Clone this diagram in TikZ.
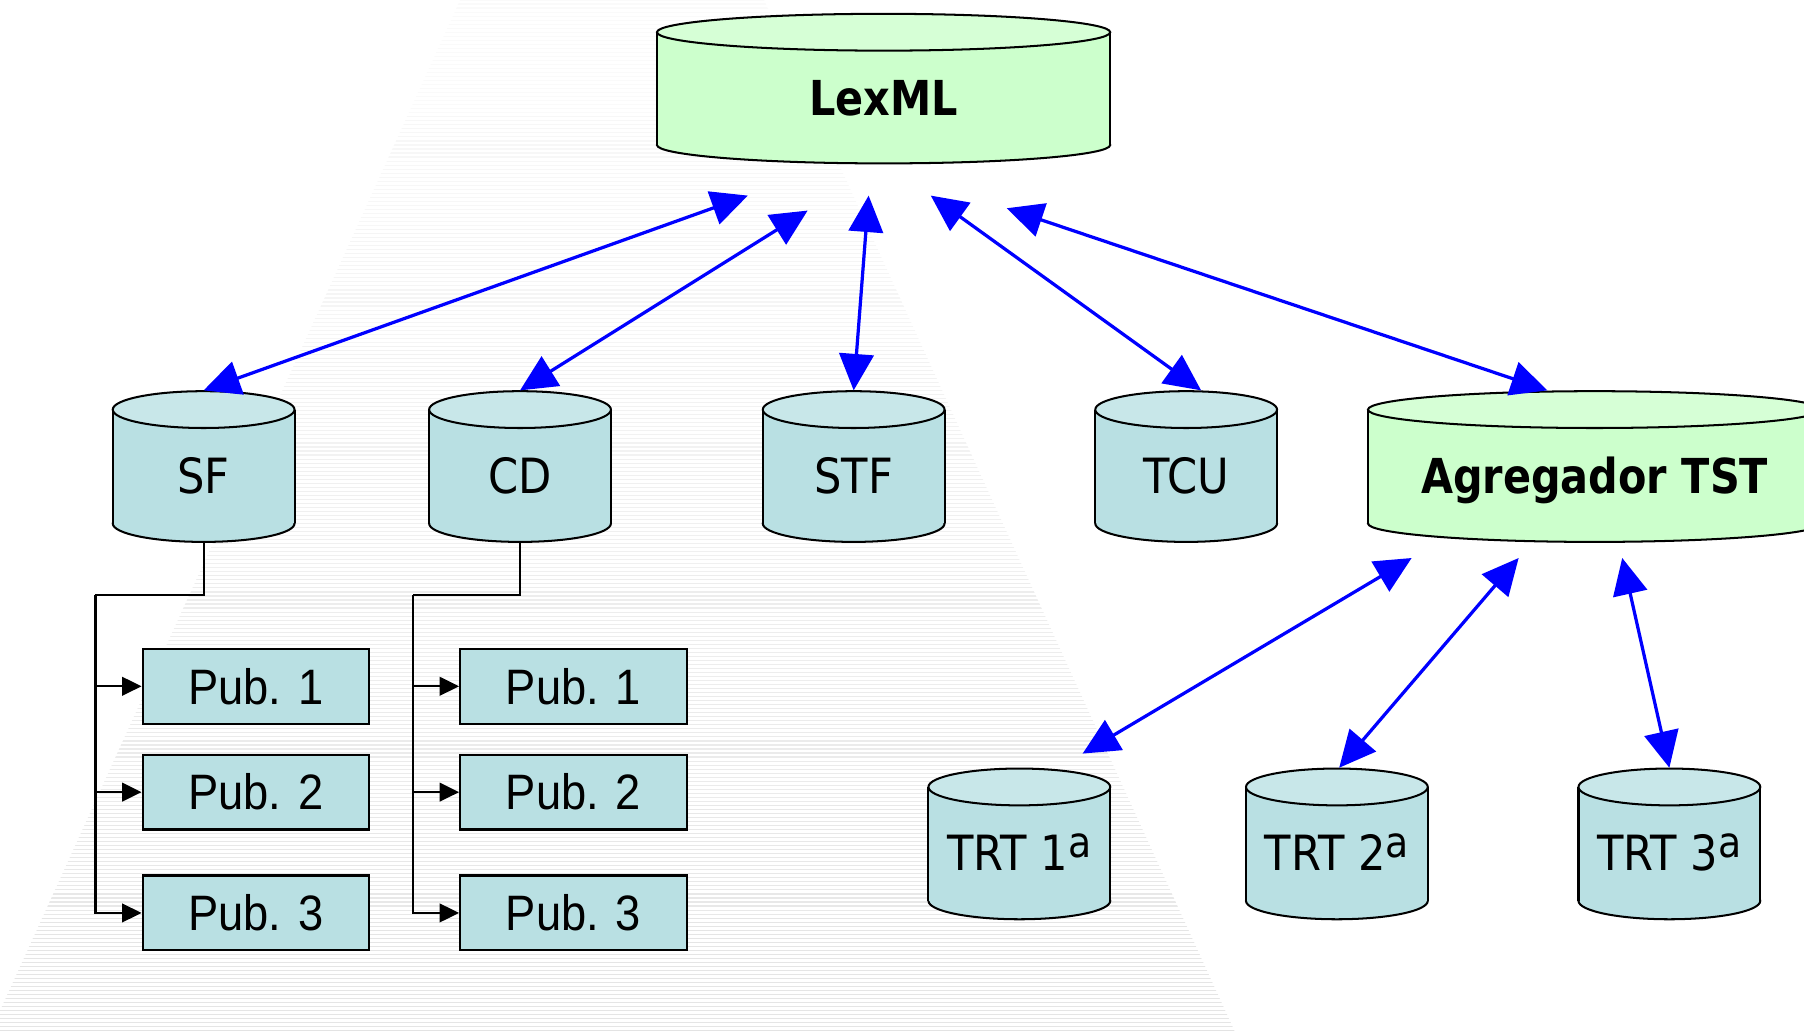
\documentclass[tikz,border=0pt]{standalone}
\usepackage{fontspec}
\setmainfont{DejaVu Sans}
\newfontfamily\cylfont{DejaVu Sans}[FakeStretch=0.89]
\newfontfamily\cylboldfont{DejaVu Sans}[FakeStretch=0.86]
\newfontfamily\pubfont{Liberation Sans}[FakeStretch=0.91]
\usetikzlibrary{arrows.meta,calc}
\definecolor{cylbody}{RGB}{185,224,227}
\definecolor{cyltop}{RGB}{200,231,233}
\definecolor{grnbody}{RGB}{204,255,204}
\definecolor{grntop}{RGB}{214,255,214}
\definecolor{arrowblue}{RGB}{0,0,255}
\newcommand\ordA{\raisebox{3.3pt}{\fontsize{10.5}{10}\selectfont a}}
\newcommand\dbcyl[9]{%
  \pgfmathsetmacro\cxl{#2-#4/2}%
  \pgfmathsetmacro\cxr{#2+#4/2}%
  \pgfmathsetmacro\cyt{#3+16}%
  \pgfmathsetmacro\cyb{#3+#5-16}%
  \pgfmathsetmacro\cym{#3+#5/2}%
  \pgfmathsetmacro\cylab{(\cyt+\cyb)/2+8+15}%
  \pgfmathsetmacro\crx{#4/2}%
  \filldraw[cylline,fill=#6] (#2,\cyb) ellipse[x radius=\crx, y radius=16];
  \fill[#6] (\cxl,\cyt) rectangle (\cxr,\cyb);
  \draw[cylline] (\cxl,\cyt) -- (\cxl,\cyb) (\cxr,\cyt) -- (\cxr,\cyb);
  \filldraw[cylline,fill=#7] (#2,\cyt) ellipse[x radius=\crx, y radius=16];
  \node[inner sep=0,minimum width={#4*0.01cm},minimum height={#5*0.01cm}] (#1) at (#2,\cym) {};
  \node[inner sep=0,anchor=base,#8] (#1-label) at (#2,\cylab) {#9};
}
\tikzset{
  cylline/.style={draw=black,line width=0.5pt},
  cyltext/.style={font=\cylfont\fontsize{12}{14}\selectfont},
  cylbold/.style={font=\cylboldfont\bfseries\fontsize{11.9}{14}\selectfont},
  pubbox/.style={draw=black,line width=0.55pt,fill=cylbody,inner sep=0,
    minimum width={197*0.01cm},minimum height={65*0.01cm},
    font=\pubfont\fontsize{12.3}{14}\selectfont},
  blueconn/.style={draw=arrowblue,line width=0.8pt,
    {Triangle[length=9pt,width=8.5pt]}-{Triangle[length=9pt,width=8.5pt]}},
  treeline/.style={draw=black,line width=0.5pt,-{Triangle[length=4.8pt,width=4.6pt]}},
  treeplain/.style={draw=black,line width=0.5pt}
}
\begin{document}
\begin{tikzpicture}[x=0.01cm,y=-0.01cm]
\path[use as bounding box,clip] (0,0) rectangle (1568,896);
\fill[white] (0,0) rectangle (1568,896);
% faint hatched background
\begin{scope}
\clip (400,0) -- (664,0) -- (1073,896) -- (-8,896) -- cycle;
\foreach \i in {0,...,256} {
  \pgfmathsetmacro\yy{\i*3.5}
  \pgfmathtruncatemacro\cc{2+9*\i/256}
  \draw[black!\cc,line width=0.28pt] (-10,\yy) -- (1100,\yy);
}
\end{scope}
% cylinders
\dbcyl{lex}{768}{12}{394}{130}{grnbody}{grntop}{cylbold}{LexML}
\dbcyl{sf}{177}{340}{158}{131}{cylbody}{cyltop}{cyltext}{SF}
\dbcyl{cd}{452}{340}{158}{131}{cylbody}{cyltop}{cyltext}{CD}
\dbcyl{stf}{742}{340}{158}{131}{cylbody}{cyltop}{cyltext}{STF}
\dbcyl{tcu}{1031}{340}{158}{131}{cylbody}{cyltop}{cyltext}{TCU}
\dbcyl{agr}{1386}{340}{394}{131}{grnbody}{grntop}{cylbold}{Agregador TST}
\dbcyl{trta}{886}{668}{158}{131}{cylbody}{cyltop}{cyltext}{TRT 1\ordA}
\dbcyl{trtb}{1162}{668}{158}{131}{cylbody}{cyltop}{cyltext}{TRT 2\ordA}
\dbcyl{trtc}{1451}{668}{158}{131}{cylbody}{cyltop}{cyltext}{TRT 3\ordA}
% publication boxes
\node[pubbox] (sfpa) at (222.5,596.5) {Pub. 1};
\node[pubbox] (sfpb) at (222.5,688.5) {Pub. 2};
\node[pubbox] (sfpc) at (222.5,793.5) {Pub. 3};
\node[pubbox] (cdpa) at (498.5,596.5) {Pub. 1};
\node[pubbox] (cdpb) at (498.5,688.5) {Pub. 2};
\node[pubbox] (cdpc) at (498.5,793.5) {Pub. 3};
% tree connectors
\coordinate (sfbus) at (83,517);
\coordinate (cdbus) at (359,517);
\draw[treeplain] (sf.south) |- (sfbus);
\draw[treeline] (sfbus) |- (sfpc.west);
\draw[treeline] (sfbus |- sfpa.west) -- (sfpa.west);
\draw[treeline] (sfbus |- sfpb.west) -- (sfpb.west);
\draw[treeplain] (cd.south) |- (cdbus);
\draw[treeline] (cdbus) |- (cdpc.west);
\draw[treeline] (cdbus |- cdpa.west) -- (cdpa.west);
\draw[treeline] (cdbus |- cdpb.west) -- (cdpb.west);
% blue connectors
\coordinate (lxa) at (650,170);
\coordinate (lxb) at (702,183);
\coordinate (lxc) at (755,170);
\coordinate (lxd) at (809,170);
\coordinate (lxe) at (875,181);
\coordinate (aga) at (1227,485);
\coordinate (agb) at (1320,485);
\coordinate (agc) at (1410,485);
\coordinate (trtaend) at (941,655);
\draw[blueconn] (lxa) -- (sf.north);
\draw[blueconn] (lxb) -- (cd.north);
\draw[blueconn] (lxc) -- (stf.north);
\draw[blueconn] (lxd) -- ($(tcu.north)+(13,0)$);
\draw[blueconn] (lxe) -- ($(agr.north)+(-41,0)$);
\draw[blueconn] (aga) -- (trtaend);
\draw[blueconn] (agb) -- ($(trtb.north)+(2,0)$);
\draw[blueconn] (agc) -- (trtc.north);
\end{tikzpicture}
\end{document}
